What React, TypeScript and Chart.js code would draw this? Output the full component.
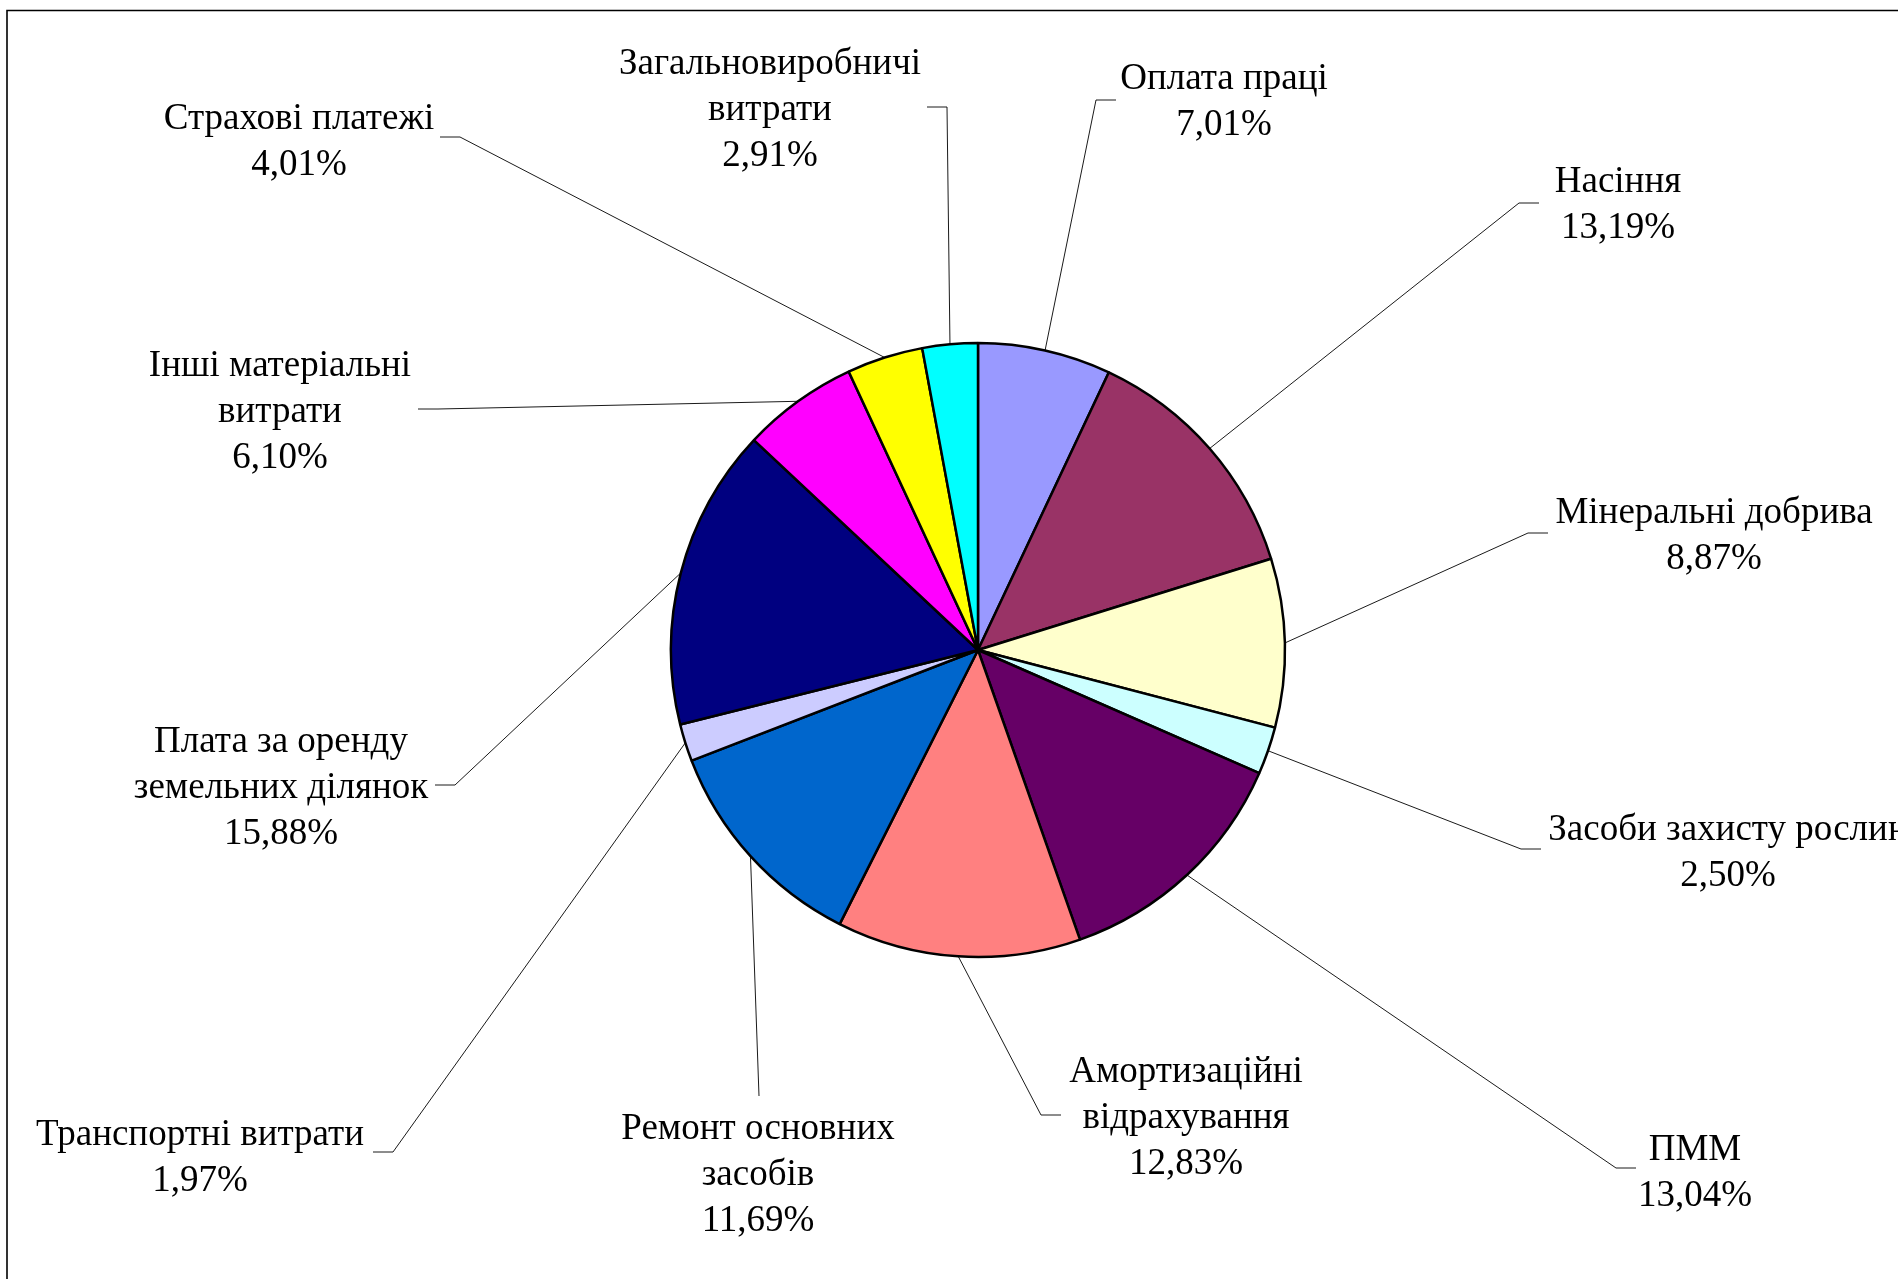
import React, { useEffect, useRef } from "react";
import { Chart, registerables } from "chart.js";

Chart.register(...registerables);

// ---- data ----
const categories: string[][] = [
  ["Оплата праці"],
  ["Насіння"],
  ["Мінеральні добрива"],
  ["Засоби захисту рослин"],
  ["ПММ"],
  ["Амортизаційні", "відрахування"],
  ["Ремонт основних", "засобів"],
  ["Транспортні витрати"],
  ["Плата за оренду", "земельних ділянок"],
  ["Інші матеріальні", "витрати"],
  ["Страхові платежі"],
  ["Загальновиробничі", "витрати"],
];
const shares: number[] = [7.01, 13.19, 8.87, 2.5, 13.04, 12.83, 11.69, 1.97, 15.88, 6.1, 4.01, 2.91];
const sliceColors: string[] = [
  "#9999FF", "#993366", "#FFFFCC", "#CCFFFF", "#660066", "#FF8080",
  "#0066CC", "#CCCCFF", "#000080", "#FF00FF", "#FFFF00", "#00FFFF",
];

// ---- label layout (offsets from pie centre, px): text block centre, leader elbow, tick direction ----
const labelLayout = [
  { bx: 246, by: -551, ex: 118, ey: -550, t: 1 },
  { bx: 640, by: -448, ex: 541, ey: -447, t: 1 },
  { bx: 736, by: -117, ex: 550, ey: -117, t: 1 },
  { bx: 750, by: 200, ex: 543, ey: 199, t: 1 },
  { bx: 717, by: 520, ex: 638, ey: 518, t: 1 },
  { bx: 208, by: 465, ex: 63, ey: 465, t: 1 },
  { bx: -220, by: 522, ex: -219, ey: 446, t: 0 },
  { bx: -778, by: 505, ex: -585, ey: 502, t: -1 },
  { bx: -697, by: 135, ex: -523, ey: 135, t: -1 },
  { bx: -698, by: -241, ex: -540, ey: -241, t: -1 },
  { bx: -679, by: -511, ex: -518, ey: -513, t: -1 },
  { bx: -208, by: -543, ex: -31, ey: -543, t: -1 },
];

const FONT = '37px "Liberation Serif", "Times New Roman", serif';
const LINE_H = 46;
const TICK = 20;
const TEXT_SHIFT = 3;

const fmt = (v: number) => v.toFixed(2).replace(".", ",") + "%";

const framePlugin = {
  id: "frame",
  beforeDraw(chart: any) {
    const ctx = chart.ctx;
    ctx.save();
    ctx.fillStyle = "#ffffff";
    ctx.fillRect(0, 0, chart.width, chart.height);
    ctx.strokeStyle = "#000000";
    ctx.lineWidth = 1.6;
    ctx.beginPath();
    ctx.moveTo(7, chart.height + 10);
    ctx.lineTo(7, 10.5);
    ctx.lineTo(chart.width + 10, 10.5);
    ctx.stroke();
    ctx.restore();
  },
};

const calloutPlugin = {
  id: "callouts",
  afterDatasetsDraw(chart: any) {
    const ctx = chart.ctx;
    const meta = chart.getDatasetMeta(0);
    ctx.save();
    ctx.font = FONT;
    ctx.fillStyle = "#000000";
    ctx.textAlign = "center";
    ctx.textBaseline = "middle";
    meta.data.forEach((arc: any, i: number) => {
      const { x, y, startAngle, endAngle, outerRadius } = arc.getProps(
        ["x", "y", "startAngle", "endAngle", "outerRadius"],
        true
      );
      const mid = (startAngle + endAngle) / 2;
      const sx = x + Math.cos(mid) * outerRadius;
      const sy = y + Math.sin(mid) * outerRadius;
      const L = labelLayout[i];
      const ex = x + L.ex;
      const ey = y + L.ey;
      ctx.strokeStyle = "#000000";
      ctx.lineWidth = 0.9;
      ctx.beginPath();
      ctx.moveTo(sx, sy);
      ctx.lineTo(ex, ey);
      if (L.t !== 0) ctx.lineTo(ex + L.t * TICK, ey);
      ctx.stroke();

      const lines = [...categories[i], fmt(shares[i])];
      const cx = x + L.bx;
      const cy = y + L.by + TEXT_SHIFT;
      const top = cy - ((lines.length - 1) * LINE_H) / 2;
      lines.forEach((ln, k) => ctx.fillText(ln, cx, top + k * LINE_H));
    });
    ctx.restore();
  },
};

export default function App() {
  const ref = useRef<HTMLCanvasElement | null>(null);
  useEffect(() => {
    if (!ref.current) return;
    const chart = new Chart(ref.current, {
      type: "pie",
      data: {
        labels: categories.map((c) => c.join(" ")),
        datasets: [
          {
            data: shares,
            backgroundColor: sliceColors,
            borderColor: "#000000",
            borderWidth: 2.5,
          },
        ],
      },
      options: {
        responsive: false,
        animation: false,
        radius: 307,
        layout: { padding: { left: 671, right: 613, top: 343, bottom: 322 } },
        plugins: {
          legend: { display: false },
          tooltip: { enabled: false },
          title: { display: false },
        },
      },
      plugins: [framePlugin, calloutPlugin],
    });
    return () => chart.destroy();
  }, []);
  return (
    <div style={{ position: "fixed", left: 0, top: 0, width: 1898, height: 1279, background: "#fff" }}>
      <canvas ref={ref} width={1898} height={1279} style={{ display: "block", width: 1898, height: 1279 }} />
    </div>
  );
}
